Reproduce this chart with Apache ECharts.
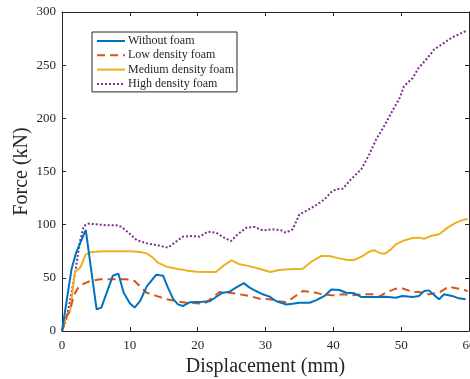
<!DOCTYPE html>
<html><head><meta charset="utf-8">
<script src="https://cdn.jsdelivr.net/npm/echarts@6/dist/echarts.min.js"></script>
<style>html,body{margin:0;padding:0;background:#fff}#c{width:470px;height:379px}</style>
</head><body><div id="c"></div>
<script>
const xTicks = [0,10,20,30,40,50,60];
const yTicks = [0,50,100,150,200,250,300];
const seriesNames = ['Without foam','Low density foam','Medium density foam','High density foam'];

const withoutX = [0,1.4,2.1,3.5,5.1,5.8,7.5,8.3,9.1,10,10.7,11.5,12.5,13.9,14.9,15.6,16.4,17.1,17.8,18.8,19.8,20.8,21.8,22.7,23.7,24.7,25.7,26.8,27.6,28.6,29.6,30.6,31.6,33,34,35,36.5,37.5,38.7,39.7,40.9,41.9,43.1,44.1,45.3,46.8,47.7,49.2,50.2,51.7,52.6,53.4,54.1,54.9,55.6,56.3,57.5,58.5,59.5];
const withoutY = [0,58,74,95,20.4,22,52,54,36,26,22,28,42,53,52,41,30,25,23.5,27,27.3,27.6,28,32,36,37,41,45,41,37.6,34.5,32.3,28,25,25.7,26.6,26.6,29,33,39,38.6,36,35.4,32,32,32,32.3,31.3,33,32,33,37.6,38.2,33.5,29.8,34.5,33,30.7,29.8];

const lowX = [0,0.7,1.2,1.7,2.4,3.1,4.1,5.6,7.5,9.5,10.7,11.5,12.5,13.9,15.4,16.9,18.3,19.8,21,22.3,23.2,24.7,26.2,27.6,29.1,30.6,32,33,34,35.5,36.9,38.4,39.9,41.4,42.8,44.3,45.8,46.8,47.7,49.2,50.2,51.7,52.6,54.1,55.6,57,58.5,59.8];
const lowY = [0,14,19,33,40.8,44,47,48.6,48.6,48.6,47,42,36,33,30,28,26.6,26,25.7,32,36.7,36,34.5,33,30.4,29.8,28,27,31,37.6,36.7,34.5,33.5,34.5,33.5,34.5,34.5,32.3,36,39.8,40,36.7,36.7,34.5,36,41.7,39.8,37.6];

const medX = [0,0.7,1.2,1.9,2.7,3.5,4.4,6.1,8,10,11.5,12.5,13.4,14.2,15.4,16.9,18.3,19.8,21.3,22.7,23.7,25,26.2,27.6,29.1,30.7,32,33.4,35.5,36.9,38.2,39.4,40.9,42.1,43.1,44.3,45.3,46,47,47.7,48.5,49.2,50.2,51.7,52.6,53.4,54.4,55.6,56.8,57.8,58.8,59.8];
const medY = [0,15.7,18.8,55.5,59.6,72,74.3,75,75,75,74.3,73,69,64,60.5,58.6,57,55.8,55.5,55.5,61,66.5,62.7,61,58.6,55.5,57.4,58,58.6,65.8,70.5,70.5,68.3,66.8,66.8,70.5,74.6,76,73,73,76.8,81.5,84.6,87.5,87.8,86.8,89.3,91,97,101,103.8,105.6];

const highX = [0,0.7,1.4,2.1,2.6,3.2,3.9,5.1,6.6,8,8.8,9.8,11,12.5,13.9,15.6,16.6,17.8,19.3,20.3,21.5,22.7,23.9,24.9,25.9,27.2,28.4,29.6,31.1,32.3,33,34,35,36,37.5,38.7,39.7,40.4,41.4,42.6,44.1,45.3,46.3,47.5,48.7,49.7,50.4,51.7,52.6,53.9,54.9,56.1,57.5,58.5,59.5];
const highY = [0,12.5,36,61,83,98.7,101,100.3,99.4,99.4,97.8,92.5,85.6,82.4,80.9,78.4,83,88.7,89.3,88.7,93.4,92.5,87.8,84.6,90.9,97.2,97.8,94.7,95.6,94.7,92.5,95.6,109.7,112.9,118.5,123.8,130.7,133.2,133.9,142.6,152,166,180,192.8,207,218,230,238,247.6,257,265,270,276,279,282];

function pairs(xs, ys){ return xs.map((x,i)=>[x, ys[i]]); }

const FONT = 'Liberation Serif';
const TXT = '#262626';
const chart = echarts.init(document.getElementById('c'), null, {renderer:'canvas'});
const axisCommon = {
  axisLine:{show:true, onZero:false, lineStyle:{color:TXT, width:1}},
  axisTick:{show:true, inside:true, length:4, lineStyle:{color:TXT}},
  splitLine:{show:false}
};
chart.setOption({
  animation:false,
  backgroundColor:'#fff',
  grid:{left:62, right:1, top:12, bottom:48, containLabel:false, outerBoundsMode:'none'},
  legend:{
    left:92, top:32, orient:'vertical',
    data:seriesNames,
    itemWidth:28, itemHeight:10, itemGap:2.3,
    padding:[3,3,2,4],
    borderColor:'#262626', borderWidth:1, backgroundColor:'#fff',
    itemStyle:{opacity:0},
    textStyle:{fontFamily:FONT, fontSize:12, lineHeight:12, color:TXT, padding:[0,0,0,-2]}
  },
  xAxis:[
    Object.assign({type:'value', min:xTicks[0], max:xTicks[xTicks.length-1], interval:10,
      name:'Displacement (mm)', nameLocation:'middle', nameGap:25,
      nameTextStyle:{fontFamily:FONT, fontSize:20, color:TXT},
      axisLabel:{fontFamily:FONT, fontSize:13, color:TXT, margin:8, showMaxLabel:true}}, axisCommon),
    Object.assign({type:'value', position:'top', min:0, max:60, interval:10, axisLabel:{show:false}}, axisCommon)
  ],
  yAxis:[
    Object.assign({type:'value', min:yTicks[0], max:yTicks[yTicks.length-1], interval:50,
      name:'Force (kN)', nameLocation:'middle', nameGap:30, nameMoveOverlap:false,
      nameTextStyle:{fontFamily:FONT, fontSize:20, color:TXT},
      axisLabel:{fontFamily:FONT, fontSize:13, color:TXT, margin:6}}, axisCommon),
    Object.assign({type:'value', position:'right', min:0, max:300, interval:50, axisLabel:{show:false}}, axisCommon)
  ],
  series:[
    {name:seriesNames[0], type:'line', data:pairs(withoutX, withoutY), showSymbol:false, symbol:'none',
     lineStyle:{color:'#0072BD', width:2}, itemStyle:{color:'#0072BD'}, z:4},
    {name:seriesNames[1], type:'line', data:pairs(lowX, lowY), showSymbol:false, symbol:'none',
     lineStyle:{color:'#D95319', width:2, type:[8,5]}, itemStyle:{color:'#D95319'}, z:3},
    {name:seriesNames[2], type:'line', data:pairs(medX, medY), showSymbol:false, symbol:'none',
     lineStyle:{color:'#EDB120', width:2}, itemStyle:{color:'#EDB120'}, z:2},
    {name:seriesNames[3], type:'line', data:pairs(highX, highY), showSymbol:false, symbol:'none',
     lineStyle:{color:'#7E2F8E', width:2, type:[2,2]}, itemStyle:{color:'#7E2F8E'}, z:1}
  ]
});
</script></body></html>
